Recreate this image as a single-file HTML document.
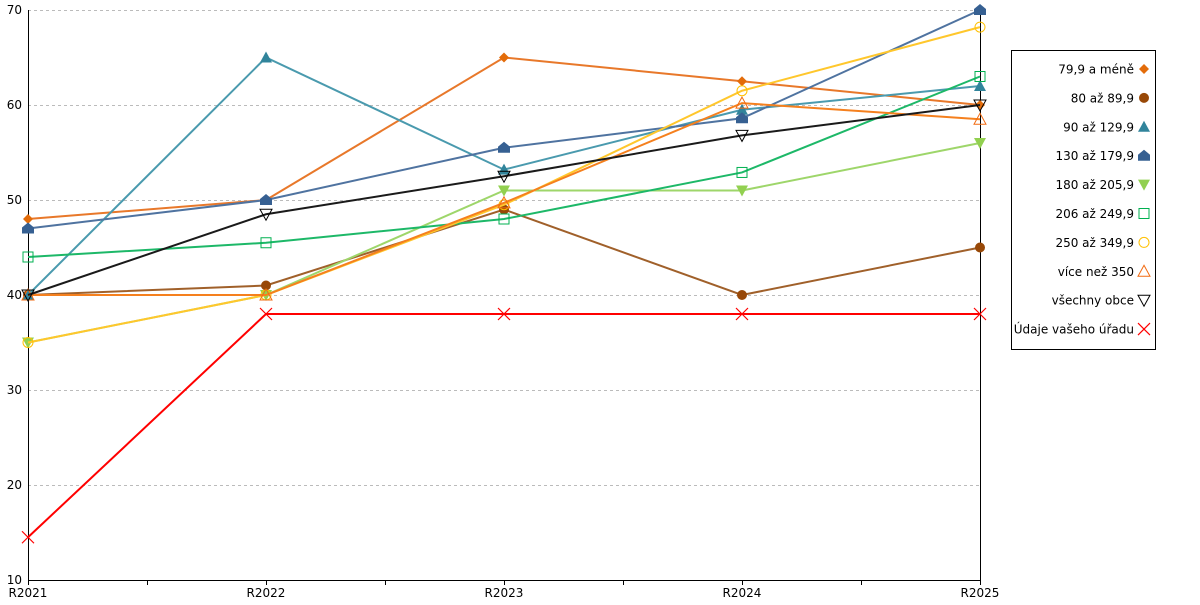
<!DOCTYPE html>
<html><head><meta charset="utf-8"><style>
body{margin:0;background:#fff;width:1200px;height:600px;overflow:hidden;font-family:"Liberation Sans","DejaVu Sans",sans-serif}
svg text{font-family:"DejaVu Sans","Liberation Sans",sans-serif;font-size:12px}
</style></head><body>
<svg id="chart" width="1200" height="600"></svg>
<script>
const categories=["R2021","R2022","R2023","R2024","R2025"];
const yTicks=[10,20,30,40,50,60,70];
const seriesNames=["79,9 a méně","80 až 89,9","90 až 129,9","130 až 179,9","180 až 205,9","206 až 249,9","250 až 349,9","více než 350","všechny obce","Údaje vašeho úřadu"];
const s1=[48,50,65,62.5,60];
const s2=[40,41,49,40,45];
const s3=[40,65,53.2,59.5,62];
const s4=[47,50,55.5,58.6,70];
const s5=[35,40,51,51,56];
const s6=[44,45.5,48,52.9,63];
const s7=[35,40,49.5,61.5,68.2];
const s8=[40,40,49.7,60.2,58.5];
const s9=[40,48.5,52.5,56.8,60];
const s10=[14.5,38,38,38,38];
const seriesValues=[s1,s2,s3,s4,s5,s6,s7,s8,s9,s10];
const colors=["#E36C0A","#984807","#31849B","#366092","#92D050","#00B050","#FFC000","#F26B12","#000000","#FF0000"];
const lineColors=["#E8782A","#A0602A","#4A9AAE","#4F73A0","#9ED66A","#1DB868","#FFC72C","#F5801E","#1a1a1a","#FF0000"];
const markers=["diamond","circle","tri","house","tridown","square","ocircle","otri","otridown","x"];
const svg=document.getElementById('chart');
const NS="http://www.w3.org/2000/svg";
const X0=28,X1=980,Y0=580,Y1=10;
const x=i=>X0+i*(X1-X0)/(categories.length-1);
const y=v=>Y0-(v-10)*(Y0-Y1)/60;
function el(t,a,p){const e=document.createElementNS(NS,t);for(const k in a)e.setAttribute(k,a[k]);(p||svg).appendChild(e);return e;}
yTicks.forEach(v=>{
 const g=el('line',{x1:X0,x2:X1,y1:y(v)+0.5,y2:y(v)+0.5,stroke:'#bbb','stroke-dasharray':'3,3'});
 
 
 const t=el('text',{x:X0-6,y:y(v)+4,'text-anchor':'end',fill:'#000'});t.textContent=v;
 
 
});
const ax=el('line',{x1:X0+0.5,x2:X0+0.5,y1:Y1,y2:Y0,stroke:'#000'});


const ax2=el('line',{x1:X1+0.5,x2:X1+0.5,y1:Y1,y2:Y0,stroke:'#000'});


const xa=el('line',{x1:X0,x2:X1,y1:Y0+0.5,y2:Y0+0.5,stroke:'#000'});


for(let i=0;i<=8;i++){const xx=Math.round(X0+i*(X1-X0)/8)+0.5;el('line',{x1:xx,x2:xx,y1:Y0,y2:Y0+5,stroke:'#000'});}
categories.forEach((c,i)=>{const t=el('text',{x:x(i),y:597,'text-anchor':'middle'});t.textContent=c;
 
 });
function marker(type,cx,cy,c,g){
 const s=5;
 switch(type){
 case 'diamond':return el('polygon',{points:`${cx},${cy-s} ${cx+s},${cy} ${cx},${cy+s} ${cx-s},${cy}`,fill:c},g);
 case 'circle':return el('circle',{cx,cy,r:5,fill:c},g);
 case 'tri':return el('polygon',{points:`${cx},${cy-6} ${cx+6},${cy+5} ${cx-6},${cy+5}`,fill:c},g);
 case 'house':return el('polygon',{points:`${cx},${cy-6} ${cx+6},${cy-1} ${cx+6},${cy+5} ${cx-6},${cy+5} ${cx-6},${cy-1}`,fill:c},g);
 case 'tridown':return el('polygon',{points:`${cx-6},${cy-5} ${cx+6},${cy-5} ${cx},${cy+6}`,fill:c},g);
 case 'square':return el('rect',{x:cx-5,y:cy-5,width:10,height:10,fill:'none',stroke:c},g);
 case 'ocircle':return el('circle',{cx,cy,r:5,fill:'none',stroke:c},g);
 case 'otri':return el('polygon',{points:`${cx},${cy-6} ${cx+6},${cy+5} ${cx-6},${cy+5}`,fill:'none',stroke:c},g);
 case 'otridown':return el('polygon',{points:`${cx-6},${cy-5} ${cx+6},${cy-5} ${cx},${cy+6}`,fill:'none',stroke:c},g);
 case 'x':return el('path',{d:`M${cx-6},${cy-6}L${cx+6},${cy+6}M${cx+6},${cy-6}L${cx-6},${cy+6}`,stroke:c,'stroke-width':1.2},g);
 }
}
seriesValues.forEach((vals,si)=>{
 const g=el('g',{});
 
 
 const p=el('polyline',{points:vals.map((v,i)=>x(i)+','+y(v)).join(' '),fill:'none',stroke:lineColors[si],'stroke-width':2},g);
 
 
 vals.forEach((v,i)=>{const m=marker(markers[si],x(i),y(v),colors[si],g);
  
  });
});
const lg=el('g',{});


el('rect',{x:1011.5,y:50.5,width:144,height:299,fill:'#fff',stroke:'#000'},lg);
seriesNames.forEach((n,i)=>{
 const cy=69+i*28.9;
 const t=el('text',{x:1134,y:cy+4.5,'text-anchor':'end'},lg);t.textContent=n;
 
 
 marker(markers[i],1144,cy,colors[i],lg);
});
</script>
</body></html>
